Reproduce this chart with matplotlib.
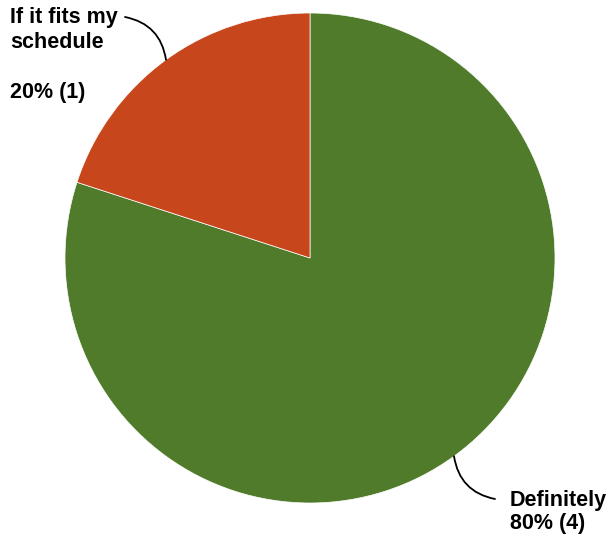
import numpy as np
import matplotlib
matplotlib.use('agg')
import matplotlib.pyplot as plt

plt.rcParams['font.family'] = ['Liberation Sans', 'DejaVu Sans']

# chart data
labels = ["Definitely", "If it fits my\nschedule"]
counts = [4, 1]
colors = ["#4f7b2a", "#c8461c"]

W, H = 610, 541
fig = plt.figure(figsize=(W / 100, H / 100), dpi=100)
# pie centre at (310, 258) px from top-left, radius 245 px
ax = fig.add_axes([65 / W, 38 / H, 490 / W, 490 / H])

wedges, _ = ax.pie(counts, colors=colors, startangle=90, counterclock=False,
                   radius=1, wedgeprops=dict(edgecolor='white', linewidth=0.5))
ax.set_xlim(-1, 1)
ax.set_ylim(-1, 1)
ax.set_aspect('equal')
ax.axis('off')

total = sum(counts)
pct = [c / total * 100 for c in counts]


def px(x, y):
    """pixel (from top-left) -> data coords"""
    return (x - 310) / 245, (258 - y) / 245


def edge_point(w):
    ang = np.deg2rad((w.theta1 + w.theta2) / 2)
    return np.cos(ang), np.sin(ang)


fs = 15.5

# Definitely label (bottom right)
ax.annotate("", xy=edge_point(wedges[0]), xytext=px(495, 499),
            arrowprops=dict(arrowstyle='-', color='black', lw=1.3,
                            connectionstyle='arc3,rad=-0.35',
                            shrinkA=0, shrinkB=0),
            annotation_clip=False)
ax.text(*px(510, 490), f"{labels[0]}\n{pct[0]:.0f}% ({counts[0]})",
        ha='left', va='top', fontsize=fs, fontweight='bold',
        linespacing=1.1)

# If it fits my schedule label (top left)
ax.annotate("", xy=edge_point(wedges[1]), xytext=px(125, 17),
            arrowprops=dict(arrowstyle='-', color='black', lw=1.3,
                            connectionstyle='arc3,rad=-0.35',
                            shrinkA=0, shrinkB=0),
            annotation_clip=False)
ax.text(*px(10, 7), labels[1], ha='left', va='top', fontsize=fs,
        fontweight='bold', linespacing=1.25)
ax.text(*px(10, 82), f"{pct[1]:.0f}% ({counts[1]})", ha='left', va='top',
        fontsize=fs, fontweight='bold')

fig.savefig('out.png', dpi=100)
